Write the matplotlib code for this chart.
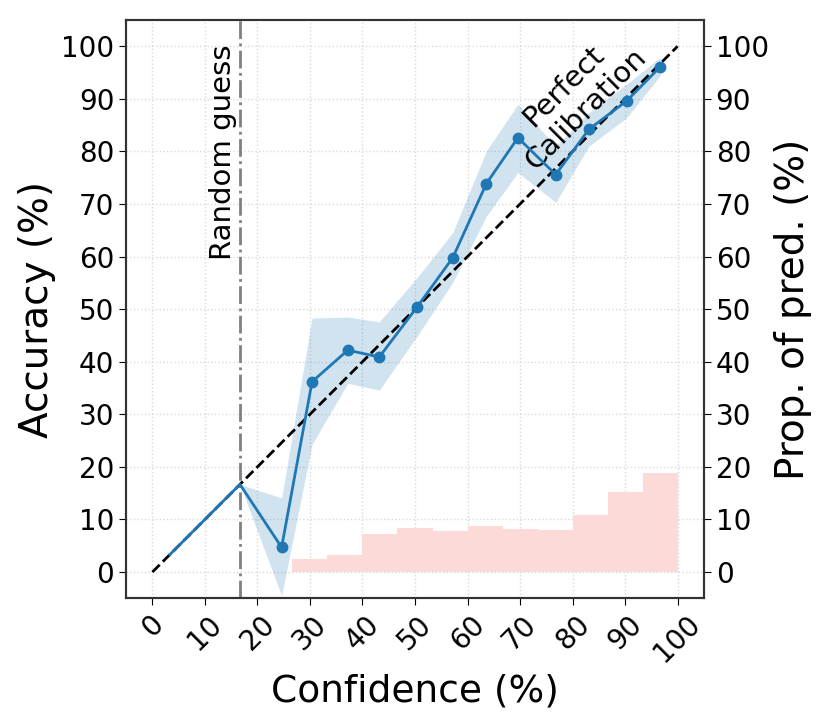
import matplotlib
matplotlib.use('Agg')
import matplotlib.pyplot as plt
import numpy as np

# Reliability curve (mean confidence per bin vs. accuracy per bin)
conf = [3.33, 16.67, 24.6, 30.4, 37.2, 43.2, 50.4, 57.2, 63.6, 69.6, 76.8, 83.1, 90.3, 96.7]
acc = [3.33, 16.67, 4.7, 36.2, 42.2, 40.9, 50.4, 59.8, 73.9, 82.6, 75.6, 84.2, 89.6, 96.1]
acc_low = [3.33, 16.67, -4.5, 24.3, 35.9, 34.6, 44.9, 55.1, 67.7, 76.0, 70.3, 81.0, 86.4, 94.4]
acc_high = [3.33, 16.67, 14.1, 48.3, 48.5, 47.6, 56.0, 64.6, 80.1, 89.0, 81.0, 87.4, 92.8, 97.9]

# Proportion of predictions per confidence bin (15 bins of width 6.67)
bin_edges = np.linspace(0, 100, 16)
prop = [0, 0, 0, 0.1, 2.55, 3.2, 7.3, 8.4, 7.8, 8.7, 8.2, 8.0, 10.9, 15.3, 18.8]

random_guess = 100 / 6

fig = plt.figure(figsize=(8.3, 7.27), dpi=100)
ax = fig.add_axes([0.152, 0.177, 0.696, 0.7955])

# histogram of predictions
ax.bar(bin_edges[:-1], prop, width=np.diff(bin_edges), align='edge',
       color='#fcdad8', edgecolor='none', zorder=1)

# perfect calibration + random guess
ax.plot([0, 100], [0, 100], '--', color='black', lw=2, zorder=3)
ax.axvline(random_guess, color='gray', ls='-.', lw=2, zorder=2)

# reliability curve with confidence band
ax.fill_between(conf[1:], acc_low[1:], acc_high[1:], color='C0', alpha=0.2,
                linewidth=0, zorder=2)
ax.plot(conf, acc, '-o', color='C0', lw=2, ms=7.5, markevery=list(range(2, len(conf))),
        zorder=4)

ax.text(13.4, 100.3, 'Random guess', rotation=90, ha='center', va='top', fontsize=21)
ax.text(80.4, 90.2, 'Perfect\nCalibration', rotation=45, ha='center', va='center',
        fontsize=21, rotation_mode='anchor')

ax.set_xlim(-5, 105)
ax.set_ylim(-5, 105)
ticks = np.arange(0, 101, 10)
ax.set_xticks(ticks)
ax.set_yticks(ticks)
ax.set_xticklabels([str(t) for t in ticks], rotation=45)
ax.tick_params(axis='both', labelsize=20, length=5)
ax.grid(True, ls=':', color='#d9d9d9', lw=1)
ax.set_axisbelow(True)
ax.set_xlabel('Confidence (%)', fontsize=27)
ax.set_ylabel('Accuracy (%)', fontsize=28)

ax2 = ax.twinx()
ax2.set_ylim(-5, 105)
ax2.set_yticks(ticks)
ax2.tick_params(axis='y', labelsize=20, length=5)
ax2.set_ylabel('Prop. of pred. (%)', fontsize=28)

for a in (ax, ax2):
    for s in a.spines.values():
        s.set_color('#333333')
        s.set_linewidth(1.5)

fig.savefig('out.png', dpi=100)
